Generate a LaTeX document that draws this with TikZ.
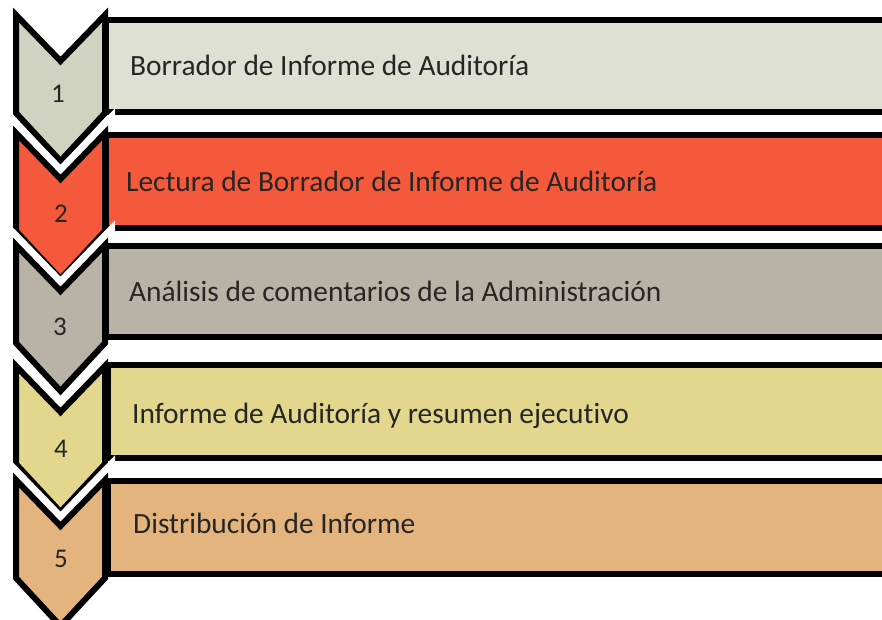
\documentclass[tikz,border=0pt]{standalone}
\usepackage{fontspec}
\setmainfont[Ligatures=NoCommon]{Carlito}
\usetikzlibrary{positioning}
\definecolor{stepA}{HTML}{DFE0D4}
\definecolor{chevA}{HTML}{CFD3C0}
\definecolor{stepB}{HTML}{F3593A}
\definecolor{stepC}{HTML}{B9B3A7}
\definecolor{stepD}{HTML}{E2D78C}
\definecolor{stepE}{HTML}{E4B47E}
\definecolor{ink}{HTML}{262626}
% chevron with top corners at y=#1 (pixel units, y down)
\def\chevron#1#2{%
  \path[draw=white,line width=20pt,line join=miter]
    (16,#1) -- (60.5,#1+46) -- (105,#1) -- (105,#1+98) -- (60.5,#1+146) -- (16,#1+98) -- cycle;
  \path[fill=#2,draw=black,line width=6pt,line join=miter]
    (16,#1) -- (60.5,#1+46) -- (105,#1) -- (105,#1+98) -- (60.5,#1+146) -- (16,#1+98) -- cycle;
}

\begin{document}
\begin{tikzpicture}[x=1pt,y=-1pt,font=\fontsize{29.4}{33}\selectfont,
    stepbox/.style={draw=black,line width=6pt},
    label/.style={anchor=base west,inner sep=0pt,text=ink},
    num/.style={anchor=base,inner sep=0pt,text=ink,font=\fontsize{27}{30}\selectfont}]
    \useasboundingbox (0,0) rectangle (882,619);
    \clip (0,0) rectangle (882,619);

    % row 1
    \chevron{15}{chevA}
    \draw[stepbox,fill=stepA] (106,20) rectangle (900,112);
    \node[num] (n1) at (58,102) {1};
    \node[label] (t1) at (130,75) {Borrador de Informe de Auditoría};

    % row 2
    \chevron{133}{stepB}
    \draw[stepbox,fill=stepB] (106,135) rectangle (900,228);
    \node[num] (n2) at (61,222) {2};
    \node[label] (t2) at (126,191) {Lectura de Borrador de Informe de Auditoría};

    % row 3
    \chevron{245}{stepC}
    \draw[stepbox,fill=stepC] (106,246) rectangle (900,337);
    \node[num] (n3) at (60,335) {3};
    \node[label] (t3) at (129,301) {Análisis de comentarios de la Administración};

    % row 4
    \chevron{366}{stepD}
    \draw[stepbox,fill=stepD] (108,365) rectangle (900,458);
    \node[num] (n4) at (61,457) {4};
    \node[label] (t4) at (132,423) {Informe de Auditoría y resumen ejecutivo};

    % row 5
    \chevron{480}{stepE}
    \draw[stepbox,fill=stepE] (108,481) rectangle (900,574);
    \node[num] (n5) at (61,567) {5};
    \node[label] (t5) at (133,533) {Distribución de Informe};
\end{tikzpicture}
\end{document}
